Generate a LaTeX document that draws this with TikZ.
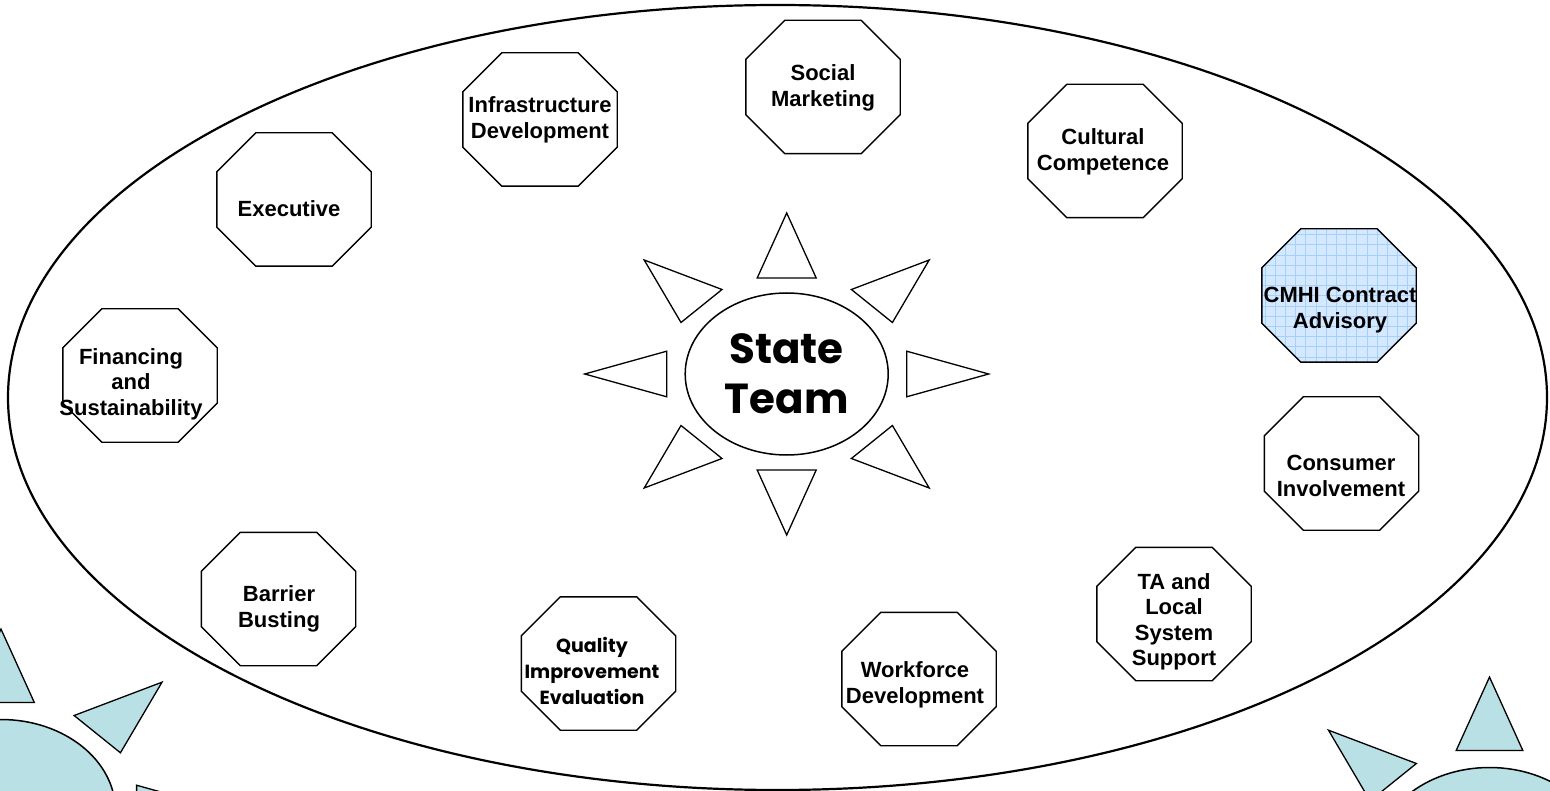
\documentclass[tikz,border=0pt]{standalone}
\usepackage{fontspec}
\setmainfont{Liberation Sans}
\newfontfamily\roundfont{Poppins}
\usetikzlibrary{shapes.geometric}

\definecolor{suncyan}{RGB}{185,224,228}
\definecolor{gridfill}{RGB}{212,233,255}
\definecolor{gridline}{RGB}{165,208,250}

\tikzset{
  octcore/.style={rectangle, draw=none, inner sep=0pt, minimum width=154pt, minimum height=133pt},
  octline/.style={draw=black, line width=1.4pt, fill=white, line join=miter},
  octtext/.style={font=\fontsize{22}{25.5}\selectfont\bfseries, align=center, inner sep=0pt},
  roundtext/.style={font=\roundfont\fontsize{19}{26}\selectfont\bfseries, align=center, inner sep=0pt},
  bigloop/.style={draw=black, line width=2.2pt},
  ray/.style={draw=black, line width=1.3pt, line join=miter},
  sunball/.style={ellipse, draw=black, line width=1.5pt, inner sep=0pt},
  gridded/.style={fill=gridfill, path picture={
      \draw[gridline, line width=0.6pt]
        ([xshift=-5pt,yshift=-5pt]path picture bounding box.south west)
        grid[step=10.2pt]
        ([xshift=5pt,yshift=5pt]path picture bounding box.north east);}},
}

% octagon with cut corners drawn around a named core node, text node on top
% #1 extra style, #2 name, #3 centre, #4 text position, #5 text
\newcommand\octbox[5][]{%
  \node[octcore] (#2) at (#3) {};
  \path[octline,#1]
    ([xshift=39pt]#2.north west) -- ([xshift=-39pt]#2.north east)
    -- ([yshift=-39pt]#2.north east) -- ([yshift=39pt]#2.south east)
    -- ([xshift=-39pt]#2.south east) -- ([xshift=39pt]#2.south west)
    -- ([yshift=39pt]#2.south west) -- ([yshift=-39pt]#2.north west) -- cycle;
  \node[octtext] (#2-t) at (#4) {#5};
}

% eight triangular rays around a centre; #1 centre, #2 scale, #3 fill colour
\newcommand\sunrays[3]{%
  \begin{scope}[shift={(#1)}, scale=#2]
    \filldraw[ray, fill=#3] (0,-161) -- (-29.5,-96) -- (29.5,-96) -- cycle;
    \filldraw[ray, fill=#3] (0,161) -- (-29.5,96) -- (29.5,96) -- cycle;
    \filldraw[ray, fill=#3] (-202,0) -- (-120,-22.8) -- (-120,22.8) -- cycle;
    \filldraw[ray, fill=#3] (202,0) -- (120,-22.8) -- (120,22.8) -- cycle;
    \filldraw[ray, fill=#3] (-142.5,-114) -- (-64.7,-84.5) -- (-105.7,-51.5) -- cycle;
    \filldraw[ray, fill=#3] (142.5,-114) -- (64.7,-84.5) -- (105.7,-51.5) -- cycle;
    \filldraw[ray, fill=#3] (-142.5,114) -- (-64.7,84.5) -- (-105.7,51.5) -- cycle;
    \filldraw[ray, fill=#3] (142.5,114) -- (64.7,84.5) -- (105.7,51.5) -- cycle;
  \end{scope}%
}

\begin{document}
\begin{tikzpicture}[x=1pt, y=-1pt]
  \useasboundingbox (0,0) rectangle (1550,791);
  \clip (0,0) rectangle (1550,791);
  \fill[white] (0,0) rectangle (1550,791);

  % the large enclosing ellipse
  \node[ellipse, bigloop, minimum width=1539pt, minimum height=785pt, inner sep=0pt]
    (loop) at (777.5,397.5) {};

  % work groups
  \octbox{infra}{540,119.5}{540,120}{Infrastructure\\Development}
  \octbox{social}{823,87}{823,88}{Social\\Marketing}
  \octbox{cultural}{1105,151}{1103,152}{Cultural\\Competence}
  \octbox{exec}{294,199.5}{289,209}{Executive}
  \octbox[gridded]{cmhi}{1339,295.5}{1340,310}{CMHI Contract\\Advisory}
  \octbox{fin}{140,375.5}{131,384}{Financing\\and\\Sustainability}
  \octbox{consumer}{1341.5,463.5}{1341,476}{Consumer\\Involvement}
  \octbox{ta}{1174,614}{1174,622}{TA and\\Local\\System\\Support}
  \octbox{work}{919,679}{915,685}{Workforce\\Development}
  \octbox{quality}{598.5,663.5}{594,671}{}
  \node[roundtext] (quality-q) at (592,671) {Quality\\Improvement\\Evaluation};
  \octbox{barrier}{278.5,599}{279,609}{Barrier\\Busting}

  % central sun
  \sunrays{786.7,374}{1}{white}
  \node[sunball, minimum width=203pt, minimum height=162pt, fill=white,
        font=\roundfont\fontsize{42}{50}\selectfont\bfseries, align=center]
    (state) at (786.7,374) {State\\Team};

  % corner suns
  \sunrays{1,811}{1.13}{suncyan}
  \node[sunball, minimum width=229pt, minimum height=183pt, fill=suncyan] (leftsun) at (1,811) {};
  \sunrays{1489.5,859}{1.13}{suncyan}
  \node[sunball, minimum width=229pt, minimum height=183pt, fill=suncyan] (rightsun) at (1489.5,859) {};
\end{tikzpicture}
\end{document}
